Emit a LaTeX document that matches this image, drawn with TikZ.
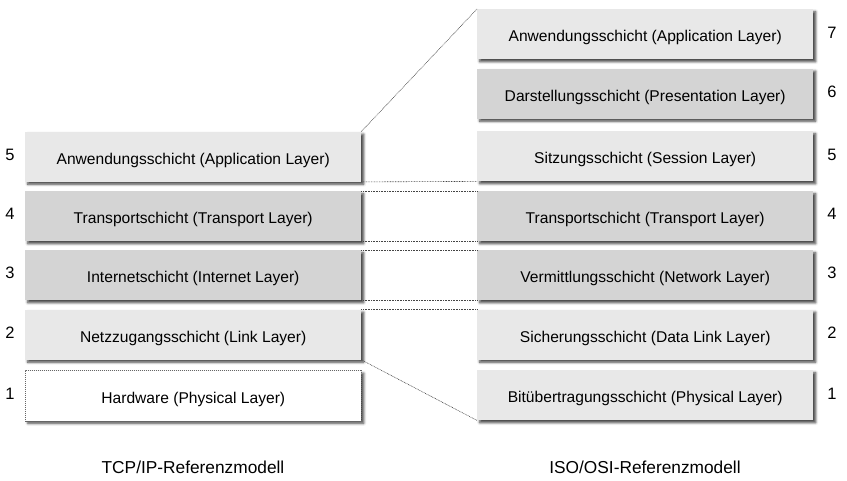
\documentclass[tikz,border=0pt]{standalone}
\usepackage{fontspec}
\setmainfont{Liberation Sans}
\usetikzlibrary{shadows.blur}
\definecolor{layerlight}{HTML}{E8E8E8}
\definecolor{layerdark}{HTML}{D4D4D4}
\definecolor{linkgray}{HTML}{444444}
\tikzset{
  layer/.style={rectangle, anchor=north west, minimum width=336pt, minimum height=50pt,
    inner sep=0pt, text depth=0pt, font=\fontsize{15.6}{18}\selectfont,
    blur shadow={shadow xshift=2.5pt, shadow yshift=-2.5pt, shadow blur radius=2.5pt,
      shadow opacity=75}},
  light/.style={layer, fill=layerlight},
  dark/.style={layer, fill=layerdark},
  hwbox/.style={layer, fill=white, draw=gray!80!black, line width=0.6pt,
    dash pattern=on 1.2pt off 0.8pt},
  num/.style={font=\fontsize{16.5}{18}\selectfont},
  caption/.style={font=\fontsize{17.3}{20}\selectfont},
  link/.style={draw=linkgray, line width=0.6pt, dash pattern=on 0.8pt off 0.8pt}
}
\begin{document}
\begin{tikzpicture}[x=1pt,y=1pt]
  \useasboundingbox (0,0) rectangle (847,-481);

  % TCP/IP stack
  \node[light] (lapp) at (25,-131.5) {\raisebox{-4pt}{Anwendungsschicht (Application Layer)}};
  \node[dark]  (ltra) at (25,-191) {\raisebox{-4pt}{Transportschicht (Transport Layer)}};
  \node[dark]  (lint) at (25,-250) {\raisebox{-4pt}{Internetschicht (Internet Layer)}};
  \node[light] (llnk) at (25,-309.5) {\raisebox{-4pt}{Netzzugangsschicht (Link Layer)}};
  \node[hwbox] (lhw)  at (25,-370.5) {\raisebox{-4pt}{Hardware (Physical Layer)}};

  % ISO/OSI stack
  \node[light] (rapp) at (477,-9) {\raisebox{-4pt}{Anwendungsschicht (Application Layer)}};
  \node[dark]  (rpre) at (477,-68.5) {\raisebox{-4pt}{Darstellungsschicht (Presentation Layer)}};
  \node[light] (rses) at (477,-131) {\raisebox{-4pt}{Sitzungsschicht (Session Layer)}};
  \node[dark]  (rtra) at (477,-191) {\raisebox{-4pt}{Transportschicht (Transport Layer)}};
  \node[dark]  (rnet) at (477,-250) {\raisebox{-4pt}{Vermittlungsschicht (Network Layer)}};
  \node[light] (rdl)  at (477,-309.5) {\raisebox{-4pt}{Sicherungsschicht (Data Link Layer)}};
  \node[light] (rphy) at (477,-370) {\raisebox{-4pt}{Bitübertragungsschicht (Physical Layer)}};

  % layer numbers
  \node[num] (n5l) at (10,-155) {5};
  \node[num] (n4l) at (10,-214) {4};
  \node[num] (n3l) at (10,-273) {3};
  \node[num] (n2l) at (10,-333) {2};
  \node[num] (n1l) at (10,-394) {1};
  \node[num] (n7r) at (832,-33) {7};
  \node[num] (n6r) at (832,-92) {6};
  \node[num] (n5r) at (832,-155) {5};
  \node[num] (n4r) at (832,-214) {4};
  \node[num] (n3r) at (832,-273) {3};
  \node[num] (n2r) at (832,-333) {2};
  \node[num] (n1r) at (832,-394) {1};

  % correspondences between the models
  \draw[link] (lapp.north east) -- (rapp.north west);
  \draw[link] (lapp.south east) -- (rses.south west);
  \draw[link] (ltra.north east) -- (rtra.north west);
  \draw[link] (ltra.south east) -- (rtra.south west);
  \draw[link] (lint.north east) -- (rnet.north west);
  \draw[link] (lint.south east) -- (rnet.south west);
  \draw[link] (llnk.north east) -- (rdl.north west);
  \draw[link] (llnk.south east) -- (rphy.south west);

  % captions
  \node[caption] (ctcp) at (193,-467) {TCP/IP-Referenzmodell};
  \node[caption] (cosi) at (645,-467) {ISO/OSI-Referenzmodell};
\end{tikzpicture}
\end{document}
